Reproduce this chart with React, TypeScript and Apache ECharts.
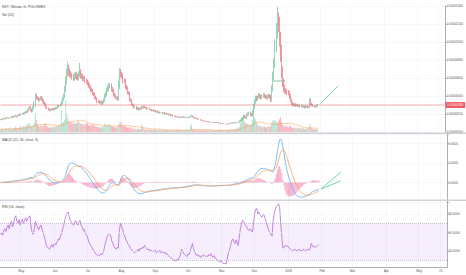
import React, { useEffect, useRef } from "react";
import * as echarts from "echarts";

// ---------- categories (daily, 12 Apr 2017 .. 26 May 2018) ----------
const START_UTC = Date.UTC(2017, 3, 12);
const CATEGORY_COUNT = 410;
const categories: string[] = Array.from({ length: CATEGORY_COUNT }, (_, i) =>
  new Date(START_UTC + i * 86400000).toISOString().slice(0, 10)
);

const axisLabelText: Record<string, string> = {
  "2017-05-01": "May",
  "2017-06-01": "Jun",
  "2017-07-01": "Jul",
  "2017-08-01": "Aug",
  "2017-09-01": "Sep",
  "2017-10-01": "Oct",
  "2017-11-01": "Nov",
  "2017-12-01": "Dec",
  "2018-01-01": "2018",
  "2018-02-01": "Feb",
  "2018-03-01": "Mar",
  "2018-04-01": "Apr",
  "2018-05-01": "May",
  "2018-05-21": "21",
};

// ---------- price data (satoshi) ----------
const firstOpen = 134;
const closes = [
  138, 145, 141, 148, 153, 147, 156, 160, 154, 163,
  170, 163, 172, 180, 176, 171, 184, 192, 186, 200,
  208, 201, 215, 224, 218, 240, 262, 270, 248, 232,
  268, 300, 405, 380, 370, 352, 365, 382, 368, 346,
  325, 308, 274, 262, 250, 240, 250, 258, 248, 255,
  264, 258, 272, 288, 282, 305, 330, 362, 395, 470,
  560, 655, 705, 672, 645, 632, 610, 598, 618, 635,
  608, 600, 648, 660, 622, 615, 590, 598, 565, 556,
  540, 512, 498, 466, 460, 425, 415, 385, 370, 340,
  338, 326, 332, 314, 330, 350, 395, 420, 465, 478,
  505, 515, 472, 458, 415, 398, 375, 380, 365, 510,
  660, 632, 622, 565, 560, 500, 485, 436, 425, 362,
  345, 305, 300, 272, 276, 255, 268, 250, 262, 258,
  270, 268, 285, 272, 270, 256, 262, 248, 252, 238,
  244, 232, 238, 222, 230, 216, 222, 210, 216, 206,
  214, 200, 207, 196, 202, 188, 195, 182, 188, 176,
  178, 170, 172, 164, 166, 158, 168, 164, 170, 162,
  166, 158, 164, 160, 168, 172, 178, 168, 162, 156,
  150, 152, 142, 138, 134, 128, 130, 122, 120, 114,
  116, 110, 114, 108, 111, 106, 110, 104, 108, 103,
  104, 97, 100, 94, 96, 90, 92, 87, 90, 88,
  94, 92, 98, 102, 98, 104, 101, 106, 103, 110,
  120, 128, 140, 152, 174, 164, 160, 184, 198, 212,
  196, 186, 225, 282, 335, 380, 368, 392, 410, 395,
  384, 402, 416, 398, 388, 380, 396, 408, 390, 356,
  480, 620, 760, 950, 1120, 1266, 1200, 1050, 900, 680,
  560, 490, 455, 448, 440, 432, 400, 356, 320, 305,
  298, 304, 294, 301, 290, 293, 286, 290, 280, 282,
  272, 280, 284, 276, 280, 350, 310, 296, 286, 280,
  284, 292, 300,
];
const wickUp = [
  6, 4, 8, 5, 7, 4, 6, 9, 5, 7,
  5, 8, 6, 7, 9, 6, 8, 7, 10, 8,
  9, 7, 10, 8, 12, 15, 14, 18, 16, 12,
  20, 40, 25, 20, 15, 18, 14, 16, 20, 15,
  14, 12, 15, 10, 9, 12, 8, 10, 9, 11,
  10, 12, 9, 14, 11, 15, 20, 25, 30, 45,
  60, 50, 75, 40, 30, 35, 25, 30, 40, 35,
  30, 40, 30, 110, 40, 35, 30, 28, 25, 30,
  25, 22, 30, 20, 24, 18, 20, 22, 18, 16,
  15, 14, 12, 16, 18, 25, 30, 28, 30, 40,
  35, 30, 25, 28, 20, 22, 18, 15, 16, 60,
  50, 40, 35, 30, 35, 28, 25, 22, 20, 18,
  16, 14, 12, 14, 10, 11, 12, 10, 9, 12,
  20, 14, 12, 10, 9, 8, 10, 9, 8, 7,
  8, 7, 9, 6, 7, 8, 6, 7, 5, 6,
  6, 5, 7, 6, 5, 6, 5, 6, 7, 5,
  5, 6, 4, 5, 6, 5, 4, 5, 4, 5,
  5, 4, 6, 5, 4, 8, 10, 6, 5, 4,
  5, 4, 5, 4, 4, 5, 4, 3, 4, 3,
  3, 4, 3, 4, 3, 3, 4, 3, 3, 4,
  3, 4, 3, 3, 4, 3, 3, 4, 3, 3,
  3, 4, 4, 5, 4, 5, 4, 5, 6, 7,
  9, 12, 15, 18, 20, 15, 14, 18, 20, 15,
  14, 16, 22, 30, 35, 25, 20, 18, 22, 20,
  18, 20, 16, 15, 18, 20, 22, 18, 15, 20,
  40, 50, 60, 80, 90, 124, 60, 80, 60, 70,
  50, 40, 35, 30, 28, 26, 24, 20, 18, 16,
  15, 14, 16, 12, 14, 13, 12, 15, 12, 11,
  12, 14, 12, 10, 12, 30, 20, 14, 12, 10,
  12, 14, 10,
];
const wickDown = [
  5, 6, 4, 7, 5, 6, 5, 4, 6, 5,
  6, 5, 7, 5, 6, 8, 5, 6, 7, 6,
  7, 8, 6, 9, 8, 10, 12, 10, 15, 14,
  12, 15, 20, 18, 15, 14, 12, 15, 16, 18,
  15, 14, 12, 10, 12, 9, 10, 8, 9, 10,
  9, 10, 8, 9, 10, 11, 12, 15, 18, 20,
  30, 35, 40, 45, 35, 30, 28, 32, 25, 30,
  28, 30, 25, 35, 30, 25, 28, 22, 24, 20,
  22, 20, 18, 22, 18, 16, 15, 18, 14, 16,
  14, 12, 13, 12, 11, 14, 16, 18, 20, 22,
  25, 22, 24, 20, 18, 16, 15, 14, 16, 20,
  30, 25, 28, 24, 22, 20, 18, 16, 15, 14,
  14, 12, 11, 10, 9, 10, 11, 9, 10, 9,
  10, 9, 8, 9, 8, 7, 8, 7, 6, 7,
  6, 7, 6, 5, 6, 5, 6, 5, 5, 6,
  5, 6, 5, 4, 5, 4, 5, 4, 5, 4,
  4, 5, 4, 5, 4, 4, 5, 4, 4, 5,
  4, 5, 4, 4, 5, 4, 6, 5, 4, 5,
  4, 5, 4, 4, 3, 4, 4, 3, 4, 3,
  3, 3, 4, 3, 3, 4, 3, 3, 4, 3,
  3, 4, 3, 3, 3, 4, 3, 3, 4, 3,
  4, 3, 4, 3, 4, 4, 3, 4, 5, 5,
  6, 8, 10, 12, 15, 12, 10, 14, 12, 16,
  18, 15, 20, 25, 30, 28, 24, 22, 20, 24,
  20, 18, 22, 20, 18, 16, 20, 18, 22, 25,
  20, 30, 40, 50, 60, 80, 90, 100, 120, 80,
  60, 40, 30, 28, 30, 26, 30, 24, 20, 18,
  16, 14, 15, 12, 14, 12, 13, 12, 10, 12,
  10, 12, 10, 11, 10, 14, 16, 12, 10, 9,
  10, 12, 10,
];
// volume (BTC)
const volumes = [
  30, 25, 35, 20, 30, 40, 25, 35, 30, 45,
  30, 25, 40, 35, 50, 30, 45, 40, 55, 50,
  45, 60, 50, 70, 55, 80, 90, 75, 60, 50,
  70, 90, 190, 120, 80, 60, 55, 70, 60, 50,
  75, 90, 60, 55, 45, 50, 40, 45, 50, 55,
  45, 60, 55, 70, 65, 80, 220, 90, 100, 120,
  320, 180, 140, 110, 90, 100, 80, 95, 85, 90,
  80, 100, 110, 90, 80, 75, 85, 70, 80, 90,
  85, 70, 60, 75, 65, 70, 80, 60, 55, 50,
  45, 50, 40, 55, 45, 60, 85, 70, 65, 80,
  75, 65, 60, 55, 50, 45, 50, 40, 60, 80,
  100, 95, 70, 60, 65, 55, 50, 45, 40, 50,
  45, 35, 30, 40, 30, 25, 35, 30, 25, 30,
  80, 45, 30, 25, 30, 20, 25, 30, 20, 25,
  20, 25, 20, 30, 15, 20, 25, 20, 15, 20,
  20, 15, 25, 20, 15, 20, 15, 20, 25, 15,
  15, 20, 15, 25, 20, 15, 20, 15, 20, 15,
  20, 15, 25, 20, 15, 60, 80, 30, 20, 15,
  20, 25, 15, 20, 15, 20, 15, 20, 15, 20,
  15, 20, 15, 15, 20, 15, 20, 15, 15, 20,
  15, 20, 25, 15, 20, 15, 15, 20, 15, 20,
  20, 15, 25, 30, 20, 25, 30, 25, 35, 40,
  50, 90, 140, 150, 120, 100, 80, 90, 80, 70,
  60, 80, 120, 190, 150, 130, 90, 70, 60, 55,
  60, 50, 55, 60, 45, 50, 55, 60, 50, 65,
  100, 120, 110, 120, 100, 90, 110, 130, 150, 100,
  70, 60, 55, 60, 50, 45, 60, 55, 50, 40,
  45, 40, 35, 40, 45, 35, 40, 30, 35, 40,
  30, 35, 30, 40, 35, 80, 45, 35, 30, 25,
  30, 25, 30,
];
// RSI (14, close)
const rsiValues = [
  58, 60, 57, 62, 64, 61, 66, 68, 64, 70,
  72, 66, 70, 76, 78, 72, 70, 74, 68, 72,
  74, 70, 73, 76, 72, 75, 77, 78, 66, 60,
  58, 64, 72, 68, 66, 63, 66, 68, 64, 60,
  56, 52, 46, 44, 43, 42, 45, 47, 44, 47,
  48, 47, 50, 53, 52, 56, 59, 64, 68, 74,
  78, 81, 82, 77, 73, 71, 69, 68, 71, 73,
  69, 68, 72, 73, 67, 66, 62, 63, 58, 57,
  54, 50, 48, 45, 44, 41, 40, 37, 36, 35,
  36, 35, 37, 36, 38, 42, 48, 52, 56, 58,
  58, 57, 51, 48, 45, 43, 42, 44, 43, 62,
  70, 66, 64, 58, 56, 52, 50, 47, 46, 43,
  42, 40, 39, 38, 40, 39, 42, 40, 43, 42,
  44, 43, 46, 44, 43, 41, 42, 40, 41, 39,
  40, 39, 41, 38, 40, 39, 41, 38, 40, 38,
  39, 37, 38, 36, 35, 34, 33, 32, 31, 30,
  30, 29, 31, 30, 33, 36, 42, 40, 37, 36,
  35, 34, 37, 36, 40, 44, 48, 43, 39, 37,
  35, 36, 34, 35, 33, 34, 36, 35, 34, 35,
  34, 36, 35, 37, 34, 33, 35, 32, 31, 30,
  29, 28, 30, 28, 27, 26, 27, 26, 32, 38,
  41, 46, 51, 53, 50, 48, 52, 49, 46, 55,
  64, 70, 73, 72, 69, 67, 66, 63, 62, 64,
  62, 60, 70, 80, 85, 86, 80, 82, 79, 77,
  77, 80, 78, 74, 70, 66, 62, 60, 58, 56,
  73, 80, 85, 88, 89, 91, 87, 70, 55, 43,
  44, 46, 45, 46, 44, 43, 42, 41, 40, 41,
  42, 41, 40, 41, 42, 40, 41, 40, 42, 41,
  40, 41, 42, 41, 42, 48, 46, 44, 45, 44,
  45, 46, 47,
];

// drawings: [category index, value]
const mainTrendLine = [[295, 319], [311, 511]];
const rangeLine = [[251, 567], [262, 567]];
const macdTrendUpper = [[294, -33], [312, 52]];
const macdTrendLower = [[294, -33], [312, 8]];

const macdTickValues = [0, 100, 200];
const rsiTickValues = [40, 60, 80];
const rsiBand = [30, 70];

// ---------- indicators ----------
function ema(src: number[], n: number): number[] {
  const k = 2 / (n + 1);
  const out: number[] = [];
  let prev = src[0];
  src.forEach((v, i) => {
    prev = i === 0 ? v : v * k + prev * (1 - k);
    out.push(prev);
  });
  return out;
}

const UP = "#53b987";
const DOWN = "#eb4d5c";
const DRAW = "#4fc39f";

const App: React.FC = () => {
  const ref = useRef<HTMLDivElement>(null);

  useEffect(() => {
    if (!ref.current) return;
    const chart = echarts.init(ref.current, undefined, { renderer: "svg" });

    const opens = closes.map((c, i) => (i === 0 ? firstOpen : closes[i - 1]));
    const ohlc = closes.map((c, i) => {
      const o = opens[i];
      return [o, c, Math.min(o, c) - wickDown[i], Math.max(o, c) + wickUp[i]];
    });
    const volData = volumes.map((v, i) => ({
      value: v,
      itemStyle: { color: closes[i] >= opens[i] ? "rgba(83,185,135,0.42)" : "rgba(235,77,92,0.42)" },
    }));
    const volMa = volumes.map((_, i) => {
      const s = Math.max(0, i - 19);
      const part = volumes.slice(s, i + 1);
      return part.reduce((a, b) => a + b, 0) / part.length;
    });
    const e12 = ema(closes, 12);
    const e26 = ema(closes, 26);
    const macd = e12.map((v, i) => v - e26[i]);
    const signal = ema(macd, 9);
    const hist = macd.map((v, i) => v - signal[i]);
    const lastClose = closes[closes.length - 1];

    const marked = (_i: number, v: string) => v in axisLabelText;
    const gridLine = { show: true, interval: marked, lineStyle: { color: "#eef1f6", width: 0.6 } };
    const axisFont = { fontSize: 3.1, color: "#555", fontFamily: "Liberation Sans, Arial, sans-serif" };
    const yCommon = {
      position: "right" as const,
      axisLine: { show: true, lineStyle: { color: "#9a9a9a", width: 0.8 } },
      axisTick: { show: true, length: 2.5, lineStyle: { color: "#9a9a9a", width: 0.5 } },
    };
    const drawing = (pts: number[][], xi: number, yi: number, color: string, width = 0.8, extra = {}) => ({
      type: "line",
      xAxisIndex: xi,
      yAxisIndex: yi,
      data: pts,
      symbol: "none",
      silent: true,
      color,
      lineStyle: { color, width },
      z: 5,
      ...extra,
    });

    const xBase = (gi: number, showLabels: boolean) => ({
      type: "category" as const,
      gridIndex: gi,
      data: categories,
      boundaryGap: true,
      axisLine: { show: showLabels, lineStyle: { color: "#9a9a9a", width: 0.8 } },
      axisTick: { show: false },
      axisLabel: showLabels
        ? { ...axisFont, interval: marked, formatter: (v: string) => axisLabelText[v] || "", margin: 2.5 }
        : { show: false },
      splitLine: gridLine,
    });

    chart.setOption({
      animation: false,
      backgroundColor: "#ffffff",
      textStyle: { fontFamily: "Liberation Sans, Arial, sans-serif" },
      grid: [
        { left: 0, right: 19, top: 6, height: 126 },
        { left: 0, right: 19, top: 133.75, height: 68.25 },
        { left: 0, right: 19, top: 201, height: 66 },
      ],
      xAxis: [xBase(0, false), xBase(1, false), xBase(2, true)],
      yAxis: [
        {
          ...yCommon,
          gridIndex: 0,
          type: "value",
          min: 0,
          max: 1400,
          interval: 200,
          axisLabel: { ...axisFont, margin: 1.5, formatter: (v: number) => (v / 1e8).toFixed(8) },
          splitLine: { show: true, lineStyle: { color: "#eef1f6", width: 0.6 } },
        },
        { gridIndex: 0, type: "value", min: 0, max: 1260, show: false, splitLine: { show: false } },
        {
          ...yCommon,
          gridIndex: 1,
          type: "value",
          min: -100,
          max: 250,
          interval: 100,
          axisLabel: {
            ...axisFont,
            margin: 1.5,
            formatter: (v: number) => (macdTickValues.includes(Math.round(v)) ? (v / 1e8).toFixed(4) : ""),
          },
          splitLine: { show: true, lineStyle: { color: "#eef1f6", width: 0.6 } },
        },
        {
          ...yCommon,
          gridIndex: 2,
          type: "value",
          min: 22.7,
          max: 94.05,
          axisTick: { ...yCommon.axisTick, customValues: rsiTickValues },
          axisLabel: { ...axisFont, margin: 1.5, customValues: rsiTickValues, formatter: (v: number) => v.toFixed(4) },
          splitLine: { show: false },
        },
      ],
      series: [
        {
          type: "bar",
          xAxisIndex: 0,
          yAxisIndex: 1,
          data: volData,
          barWidth: "70%",
          z: 1,
        },
        {
          type: "line",
          xAxisIndex: 0,
          yAxisIndex: 1,
          data: volMa,
          symbol: "none",
          lineStyle: { color: "rgba(255,150,70,0.75)", width: 0.7 },
          z: 2,
        },
        // last price line
        drawing(
          [[0, lastClose], [CATEGORY_COUNT - 1, lastClose]],
          0,
          0,
          "#f5a7ae",
          1.1,
          {
            z: 2,
            endLabel: {
              show: true,
              distance: 1,
              formatter: () => (lastClose / 1e8).toFixed(8),
              backgroundColor: "#ef5360",
              color: "#ffffff",
              fontSize: 3.1,
              padding: [1.6, 1.6, 1.2, 1.6],
            },
          }
        ),
        {
          type: "candlestick",
          xAxisIndex: 0,
          yAxisIndex: 0,
          data: ohlc,
          barWidth: "72%",
          itemStyle: { color: UP, color0: DOWN, borderColor: UP, borderColor0: DOWN, borderWidth: 0.6 },
          z: 3,
        },
        drawing(mainTrendLine, 0, 0, DRAW),
        drawing(rangeLine, 0, 0, "#76a98e"),
        {
          type: "bar",
          xAxisIndex: 1,
          yAxisIndex: 2,
          data: hist,
          barWidth: "80%",
          itemStyle: { color: "rgba(240,100,160,0.5)" },
        },
        {
          type: "line",
          xAxisIndex: 1,
          yAxisIndex: 2,
          data: macd,
          symbol: "none",
          clip: true,
          lineStyle: { color: "#5fb0f3", width: 0.8 },
          z: 3,
        },
        {
          type: "line",
          xAxisIndex: 1,
          yAxisIndex: 2,
          data: signal,
          symbol: "none",
          clip: true,
          lineStyle: { color: "#ffa062", width: 0.8 },
          z: 3,
        },
        drawing(macdTrendUpper, 1, 2, DRAW),
        drawing(macdTrendLower, 1, 2, DRAW),
        {
          type: "line",
          xAxisIndex: 2,
          yAxisIndex: 3,
          data: rsiValues,
          symbol: "none",
          clip: true,
          lineStyle: { color: "#b56ad8", width: 0.8 },
          markArea: {
            silent: true,
            itemStyle: { color: "rgba(170,90,240,0.11)" },
            data: [[{ yAxis: rsiBand[0] }, { yAxis: rsiBand[1] }]],
          },
          markLine: {
            silent: true,
            symbol: ["none", "none"],
            label: { show: false },
            data: [
              ...rsiTickValues.map((v) => ({ yAxis: v, lineStyle: { color: "#eef1f6", width: 0.6, type: "solid" } })),
              ...rsiBand.map((v) => ({ yAxis: v, lineStyle: { color: "#a8a0b0", width: 0.6, type: [1, 1] } })),
            ],
          },
          z: 3,
        },
      ],
      graphic: [
        { type: "rect", shape: { x: 0, y: 132.6, width: 466, height: 1.5 }, style: { fill: "#cfd2d8" }, z: 100 },
        { type: "rect", shape: { x: 0, y: 199.6, width: 466, height: 1.5 }, style: { fill: "#cfd2d8" }, z: 100 },
        { type: "text", left: 2, top: 5.2, style: { text: "NXT / Bitcoin, D, POLONIEX", fontSize: 3.4, fill: "#444" }, z: 101 },
        { type: "text", left: 2, top: 13, style: { text: "Vol (20)", fontSize: 3.4, fill: "#444" }, z: 101 },
        { type: "text", left: 2, top: 138.3, style: { text: "MACD (12, 26, close, 9)", fontSize: 3.4, fill: "#444" }, z: 101 },
        { type: "text", left: 2, top: 205, style: { text: "RSI (14, close)", fontSize: 3.4, fill: "#444" }, z: 101 },
      ],
    });

    return () => chart.dispose();
  }, []);

  return (
    <div
      ref={ref}
      style={{ position: "fixed", left: 0, top: 0, width: 466, height: 275, background: "#fff" }}
    />
  );
};

export default App;
